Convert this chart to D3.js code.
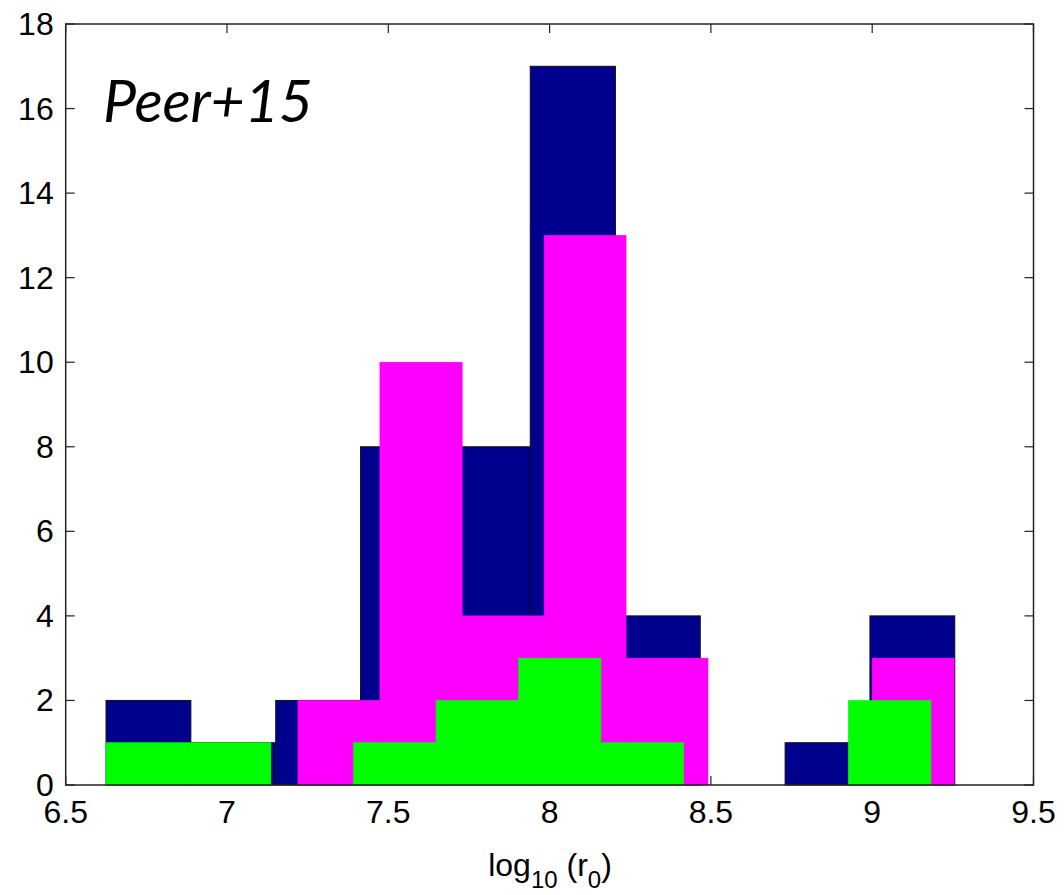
<!DOCTYPE html>
<html>
<head>
<meta charset="utf-8">
<script src="https://cdn.jsdelivr.net/npm/d3@7"></script>
<style>
  html, body { margin: 0; padding: 0; background: #fff; }
  svg { display: block; }
</style>
</head>
<body>
<svg id="chart" width="1064" height="895"></svg>
<script>
// Histogram bin edges (log10 r0) and counts for each sample
const allEdges     = [6.625, 6.888, 7.151, 7.414, 7.677, 7.940, 8.204, 8.467, 8.730, 8.993, 9.256];
const allCounts    = [2, 1, 2, 8, 8, 17, 4, 0, 1, 4];

const magentaEdges  = [7.220, 7.474, 7.729, 7.983, 8.237, 8.491, 8.746, 9.000, 9.254];
const magentaCounts = [2, 10, 4, 13, 3, 0, 0, 3];

const greenEdges   = [6.625, 6.881, 7.136, 7.392, 7.648, 7.904, 8.159, 8.415, 8.671, 8.926, 9.182];
const greenCounts  = [1, 1, 0, 1, 2, 3, 1, 0, 0, 2];

const xTicks = [6.5, 7, 7.5, 8, 8.5, 9, 9.5];
const yTicks = [0, 2, 4, 6, 8, 10, 12, 14, 16, 18];
const xDomain = [6.5, 9.5];
const yDomain = [0, 18];

const panelLabel = "Peer+15";

const svg = d3.select("#chart");
const margin = { left: 65.7, top: 24, right: 1064 - 1033.5, bottom: 895 - 785 };
const width = 1064 - margin.left - margin.right;
const height = 895 - margin.top - margin.bottom;

const x = d3.scaleLinear().domain(xDomain).range([0, width]);
const y = d3.scaleLinear().domain(yDomain).range([height, 0]);

const g = svg.append("g").attr("transform", `translate(${margin.left},${margin.top})`);

const tickLen = 9;
const axisColor = "#222";

// Inward ticks on all four sides (drawn beneath the bars)
const ticks = g.append("g").attr("stroke", axisColor).attr("stroke-width", 1.2);
xTicks.forEach(v => {
  ticks.append("line").attr("x1", x(v)).attr("x2", x(v)).attr("y1", height).attr("y2", height - tickLen);
  ticks.append("line").attr("x1", x(v)).attr("x2", x(v)).attr("y1", 0).attr("y2", tickLen);
});
yTicks.forEach(v => {
  ticks.append("line").attr("x1", 0).attr("x2", tickLen).attr("y1", y(v)).attr("y2", y(v));
  ticks.append("line").attr("x1", width).attr("x2", width - tickLen).attr("y1", y(v)).attr("y2", y(v));
});

// Build bins from edges + counts
function bins(edges, counts) {
  return counts.map((c, i) => ({ x0: edges[i], x1: edges[i + 1], n: c })).filter(d => d.n > 0);
}

function drawBars(data, fill, stroke) {
  g.append("g").selectAll("rect").data(data).join("rect")
    .attr("x", d => x(d.x0))
    .attr("width", d => x(d.x1) - x(d.x0))
    .attr("y", d => y(d.n))
    .attr("height", d => y(0) - y(d.n))
    .attr("fill", fill)
    .attr("stroke", stroke || fill)
    .attr("stroke-width", stroke ? 1 : 0.6);
}

drawBars(bins(allEdges, allCounts), "#00008f", "#111");
drawBars(bins(magentaEdges, magentaCounts), "#ff00ff");
drawBars(bins(greenEdges, greenCounts), "#00ff00");

// Axes box
g.append("rect")
  .attr("x", 0).attr("y", 0).attr("width", width).attr("height", height)
  .attr("fill", "none").attr("stroke", axisColor).attr("stroke-width", 1.5);

// Tick labels
const labelFont = "'Liberation Sans', Arial, Helvetica, sans-serif";
g.append("g").selectAll("text").data(xTicks).join("text")
  .attr("x", d => x(d)).attr("y", height + 38)
  .attr("text-anchor", "middle")
  .attr("font-family", labelFont).attr("font-size", 32)
  .attr("fill", "#000")
  .text(d => d3.format("")(d));

g.append("g").selectAll("text").data(yTicks).join("text")
  .attr("x", -12).attr("y", d => y(d) + 11)
  .attr("text-anchor", "end")
  .attr("font-family", labelFont).attr("font-size", 32)
  .attr("fill", "#000")
  .text(d => d);

// X axis title: log10 (r0)
const xt = svg.append("text")
  .attr("x", 550).attr("y", 876)
  .attr("text-anchor", "middle")
  .attr("font-family", labelFont).attr("font-size", 32)
  .attr("fill", "#000");
xt.append("tspan").text("log");
xt.append("tspan").attr("font-size", 24).attr("dy", 12).text("10");
xt.append("tspan").attr("dy", -12).text(" (r");
xt.append("tspan").attr("font-size", 24).attr("dy", 12).text("0");
xt.append("tspan").attr("dy", -12).text(")");

// Panel label
svg.append("text")
  .attr("x", 103).attr("y", 122)
  .attr("font-family", "Lato, 'Open Sans', sans-serif")
  .attr("font-style", "italic")
  .attr("font-size", 59)
  .attr("textLength", 210)
  .attr("lengthAdjust", "spacing")
  .attr("fill", "#000")
  .text(panelLabel);
</script>
</body>
</html>
